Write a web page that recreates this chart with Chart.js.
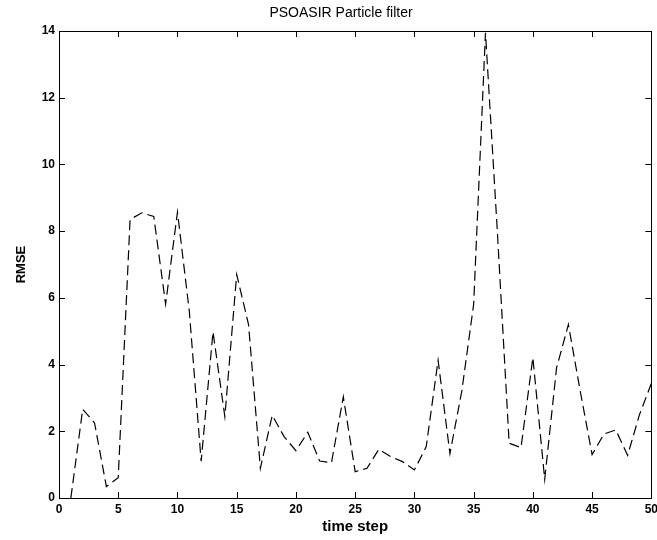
<!DOCTYPE html>
<html>
<head>
<meta charset="utf-8">
<script src="https://cdn.jsdelivr.net/npm/chart.js@4.4.1/dist/chart.umd.min.js"></script>
<style>
    html, body { margin: 0; padding: 0; background: #fff; overflow: hidden; }
    /* a little wider than the window so the "50" label is cut at the edge like the original */
    canvas { display: block; }
</style>
</head>
<body>
<canvas id="chart" width="662" height="540"></canvas>
<script>
// values
const timeSteps = [1, 2, 3, 4, 5, 6, 7, 8, 9, 10,
    11, 12, 13, 14, 15, 16, 17, 18, 19, 20,
    21, 22, 23, 24, 25, 26, 27, 28, 29, 30,
    31, 32, 33, 34, 35, 36, 37, 38, 39, 40,
    41, 42, 43, 44, 45, 46, 47, 48, 49, 50];
const rmse = [0, 2.66, 2.25, 0.34, 0.61, 8.35, 8.55, 8.44, 5.81, 8.57,
    5.6, 1.1, 4.98, 2.44, 6.7, 5.2, 0.89, 2.48, 1.84, 1.42,
    1.97, 1.11, 1.06, 3.03, 0.79, 0.89, 1.46, 1.24, 1.09, 0.84,
    1.54, 4.13, 1.33, 3.2, 5.8, 13.95, 8.0, 1.64, 1.51, 4.21,
    0.56, 3.9, 5.2, 3.2, 1.3, 1.92, 2.04, 1.28, 2.5, 3.43];
const xTicks = [0, 5, 10, 15, 20, 25, 30, 35, 40, 45, 50];
const yTicks = [0, 2, 4, 6, 8, 10, 12, 14];
const chartTitle = "PSOASIR Particle filter";

const fontFamily = "'Liberation Sans', Arial, sans-serif";
const tickFont = { family: fontFamily, size: 12, weight: "bold" };

// matlab style box with inward ticks on every side, plus the title
const boxPlugin = {
    id: "box",
    afterDraw(chart) {
        const ctx = chart.ctx;
        const a = chart.chartArea;
        const xs = chart.scales.x;
        const ys = chart.scales.y;
        const len = 6;
        ctx.save();
        ctx.strokeStyle = "#000";
        ctx.lineWidth = 1;
        ctx.beginPath();
        xTicks.forEach(function (v) {
            let px = Math.round(xs.getPixelForValue(v)) + 0.5;
            ctx.moveTo(px, a.bottom);
            ctx.lineTo(px, a.bottom - len);
            ctx.moveTo(px, a.top);
            ctx.lineTo(px, a.top + len);
        });
        yTicks.forEach(function (v) {
            let py = Math.round(ys.getPixelForValue(v)) + 0.5;
            ctx.moveTo(a.left, py);
            ctx.lineTo(a.left + len, py);
            ctx.moveTo(a.right, py);
            ctx.lineTo(a.right - len, py);
        });
        ctx.stroke();
        ctx.strokeRect(Math.round(a.left) + 0.5, Math.round(a.top) + 0.5,
            Math.round(a.right - a.left), Math.round(a.bottom - a.top));

        // title sits a bit left of the axes centre in the original
        ctx.fillStyle = "#000";
        ctx.font = "14px " + fontFamily;
        ctx.textAlign = "center";
        ctx.textBaseline = "middle";
        ctx.fillText(chartTitle, 341, 13);
        ctx.restore();
    },
};

new Chart(document.getElementById("chart"), {
    type: "line",
    data: {
        datasets: [
            {
                label: chartTitle,
                data: timeSteps.map((t, i) => ({ x: t, y: rmse[i] })),
                borderColor: "#000",
                borderWidth: 1.2,
                borderDash: [10, 5],
                pointRadius: 0,
                tension: 0,
                fill: false,
            },
        ],
    },
    options: {
        responsive: false,
        animation: false,
        layout: { autoPadding: false, padding: { top: 31, left: 0, right: 0, bottom: 0 } },
        plugins: {
            legend: { display: false },
            tooltip: { enabled: false },
        },
        scales: {
            x: {
                type: "linear",
                min: 0,
                max: 50,
                afterFit: function (scale) { scale.height = 42; },
                afterBuildTicks: function (scale) {
                    scale.ticks = xTicks.map((v) => ({ value: v }));
                },
                grid: { display: false, drawTicks: false },
                border: { display: false },
                ticks: { color: "#000", font: tickFont, padding: 4, maxRotation: 0 },
                title: {
                    display: true,
                    text: "time step",
                    color: "#000",
                    font: { family: fontFamily, size: 15, weight: "bold" },
                    padding: { top: 0, bottom: 4 },
                },
            },
            y: {
                min: 0,
                max: 14,
                afterFit: function (scale) { scale.width = 59; },
                afterBuildTicks: function (scale) {
                    scale.ticks = yTicks.map((v) => ({ value: v }));
                },
                grid: { display: false, drawTicks: false },
                border: { display: false },
                ticks: { color: "#000", font: tickFont, padding: 4 },
                title: {
                    display: true,
                    text: "RMSE",
                    color: "#000",
                    font: { family: fontFamily, size: 13, weight: "bold" },
                    padding: { top: 14, bottom: 0 },
                },
            },
        },
    },
    plugins: [boxPlugin],
});
</script>
</body>
</html>
